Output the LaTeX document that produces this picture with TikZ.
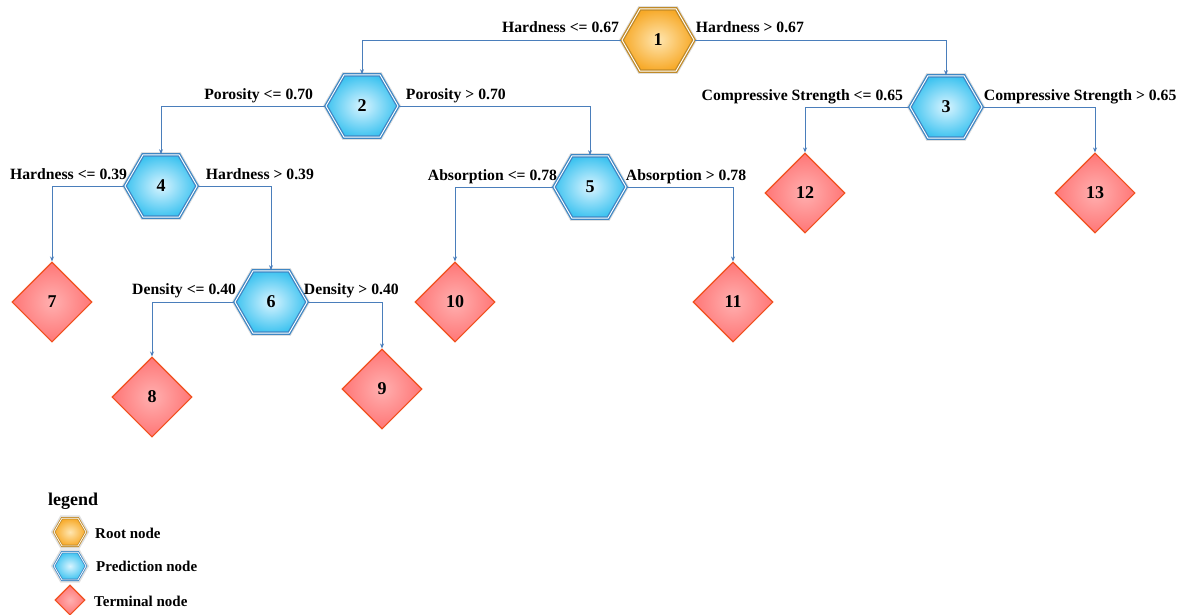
\documentclass[tikz,border=0pt]{standalone}
\usepackage{fontspec}
\setmainfont{Liberation Serif}
\usetikzlibrary{shapes.geometric,arrows.meta}
\definecolor{conncol}{HTML}{4A7EBB}
\definecolor{rootborder}{HTML}{C08A28}
\definecolor{rootin}{HTML}{FFE6B0}
\definecolor{rootout}{HTML}{F7A928}
\definecolor{predborder}{HTML}{3F87C4}
\definecolor{predin}{HTML}{D8F4FF}
\definecolor{predout}{HTML}{3EC3F0}
\definecolor{termborder}{HTML}{F0501E}
\definecolor{termin}{HTML}{FFB0B0}
\definecolor{termout}{HTML}{FF7676}
\tikzset{
  hexbase/.style={regular polygon, regular polygon sides=6, minimum size=72pt, inner sep=0pt,
    font=\fontsize{18}{20}\selectfont\bfseries, line width=1.3pt, double=white, double distance=0.9pt,
    preaction={draw=black!12, line width=5.5pt}},
  rootnode/.style={hexbase, draw=rootborder, inner color=rootin, outer color=rootout},
  prednode/.style={hexbase, draw=predborder, inner color=predin, outer color=predout},
  termnode/.style={diamond, minimum width=80pt, minimum height=80pt, inner sep=0pt,
    draw=termborder, line width=1.1pt, inner color=termin, outer color=termout,
    font=\fontsize{18}{20}\selectfont\bfseries},
  conn/.style={draw=conncol, line width=0.8pt, -{Stealth[length=5pt,width=4pt]}},
  lbl/.style={font=\fontsize{15.7}{17}\selectfont\bfseries, inner sep=0pt},
  lgtext/.style={font=\fontsize{15}{16}\selectfont\bfseries, inner sep=0pt, anchor=west},
}
\begin{document}
\begin{tikzpicture}[x=1pt,y=-1pt]
\useasboundingbox (0,0) rectangle (1183,614);
% nodes
\node[rootnode] (n1) at (658,40) {1};
\node[prednode] (n2) at (362,106) {2};
\node[prednode] (n3) at (946,107) {3};
\node[prednode] (n4) at (161,186) {4};
\node[prednode] (n5) at (590,187) {5};
\node[prednode] (n6) at (271,302) {6};
\node[termnode] (n7) at (52,302) {7};
\node[termnode] (n8) at (152,397) {8};
\node[termnode] (n9) at (382,389) {9};
\node[termnode] (n10) at (455,302) {10};
\node[termnode] (n11) at (733,302) {11};
\node[termnode] (n12) at (805,193) {12};
\node[termnode] (n13) at (1095,193) {13};
% connectors
\draw[conn] (n1.west) -| (n2.north);
\draw[conn] (n1.east) -| (n3.north);
\draw[conn] (n2.west) -| (n4.north);
\draw[conn] (n2.east) -| (n5.north);
\draw[conn] (n3.west) -| (n12.north);
\draw[conn] (n3.east) -| (n13.north);
\draw[conn] (n4.west) -| (n7.north);
\draw[conn] (n4.east) -| (n6.north);
\draw[conn] (n5.west) -| (n10.north);
\draw[conn] (n5.east) -| (n11.north);
\draw[conn] (n6.west) -| (n8.north);
\draw[conn] (n6.east) -| (n9.north);
% labels
\node[lbl, anchor=base east] (l1a) at ([xshift=-2pt,yshift=8pt]n1.west) {Hardness <= 0.67};
\node[lbl, anchor=base west] (l1b) at ([xshift=1pt,yshift=8pt]n1.east) {Hardness > 0.67};
\node[lbl, anchor=base east] (l2a) at ([xshift=-12pt,yshift=7pt]n2.west) {Porosity <= 0.70};
\node[lbl, anchor=base west] (l2b) at ([xshift=7pt,yshift=7pt]n2.east) {Porosity > 0.70};
\node[lbl, anchor=base east] (l3a) at ([xshift=-6pt,yshift=7pt]n3.west) {Compressive Strength <= 0.65};
\node[lbl, anchor=base west] (l3b) at ([xshift=1pt,yshift=7pt]n3.east) {Compressive Strength > 0.65};
\node[lbl, anchor=base east] (l4a) at ([xshift=3pt,yshift=7pt]n4.west) {Hardness <= 0.39};
\node[lbl, anchor=base west] (l4b) at ([xshift=8pt,yshift=7pt]n4.east) {Hardness > 0.39};
\node[lbl, anchor=base east] (l5a) at ([xshift=4pt,yshift=7pt]n5.west) {Absorption <= 0.78};
\node[lbl, anchor=base west] (l5b) at ([xshift=-1pt,yshift=7pt]n5.east) {Absorption > 0.78};
\node[lbl, anchor=base east] (l6a) at ([xshift=2pt,yshift=8pt]n6.west) {Density <= 0.40};
\node[lbl, anchor=base west] (l6b) at ([xshift=-4pt,yshift=8pt]n6.east) {Density > 0.40};
% legend
\node[font=\fontsize{18}{20}\selectfont\bfseries, inner sep=0pt, anchor=west] (lg) at (48,501) {legend};
\node[rootnode, minimum size=32pt, line width=0.8pt, double distance=0.7pt, preaction={draw=black!12, line width=3.5pt}] (lgh1) at (70,532) {};
\node[prednode, minimum size=32pt, line width=0.8pt, double distance=0.7pt, preaction={draw=black!12, line width=3.5pt}] (lgh2) at (70,566) {};
\node[termnode, minimum width=30pt, minimum height=30pt] (lgd) at (70,600) {};
\node[lgtext] (lgt1) at (95,533) {Root node};
\node[lgtext] (lgt2) at (96,566) {Prediction node};
\node[lgtext] (lgt3) at (94,601) {Terminal node};
\end{tikzpicture}
\end{document}
